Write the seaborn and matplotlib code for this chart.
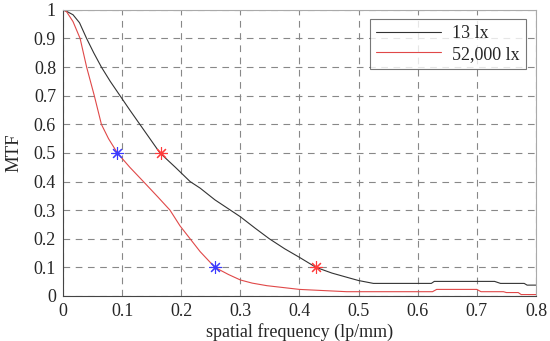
import numpy as np
import matplotlib
matplotlib.use("Agg")
import matplotlib.pyplot as plt
import pandas as pd
import seaborn as sns

# curva MTF a 13 lx
freq_13 = [0, 0.008, 0.017, 0.028, 0.040, 0.052, 0.065, 0.080, 0.0965, 0.113,
           0.130, 0.147, 0.164, 0.19, 0.215, 0.232, 0.257, 0.30, 0.325, 0.349,
           0.375, 0.40, 0.428, 0.455, 0.486, 0.50, 0.525, 0.623, 0.628, 0.73,
           0.74, 0.78, 0.785, 0.8]
mtf_13 = [1, 0.993, 0.983, 0.955, 0.9, 0.85, 0.8, 0.75, 0.7, 0.65,
          0.6, 0.55, 0.5, 0.45, 0.4, 0.377, 0.336, 0.277, 0.237, 0.2,
          0.165, 0.135, 0.1, 0.08, 0.062, 0.054, 0.044, 0.044, 0.051, 0.051,
          0.044, 0.044, 0.038, 0.038]

# curva MTF a 52,000 lx
freq_52k = [0, 0.006, 0.017, 0.029, 0.040, 0.053, 0.065, 0.077, 0.092, 0.113,
            0.136, 0.161, 0.181, 0.198, 0.215, 0.232, 0.257, 0.28, 0.30, 0.32,
            0.345, 0.40, 0.45, 0.48, 0.625, 0.632, 0.70, 0.707, 0.745, 0.75,
            0.77, 0.775, 0.8]
mtf_52k = [1, 0.994, 0.959, 0.9, 0.8, 0.7, 0.6, 0.55, 0.5, 0.45,
           0.4, 0.345, 0.3, 0.245, 0.2, 0.155, 0.1, 0.075, 0.056, 0.045,
           0.036, 0.023, 0.018, 0.015, 0.015, 0.023, 0.023, 0.015, 0.015, 0.012,
           0.012, 0.005, 0.005]

# marcadores MTF50 / MTF10
blue_x = [0.092, 0.257]
blue_y = [0.5, 0.1]
red_x = [0.165, 0.428]
red_y = [0.5, 0.1]

xticks = [0, 0.1, 0.2, 0.3, 0.4, 0.5, 0.6, 0.7, 0.8]
xtick_labels = ["0", "0.1", "0.2", "0.3", "0.4", "0.5", "0.6", "0.7", "0.8"]
yticks = [0, 0.1, 0.2, 0.3, 0.4, 0.5, 0.6, 0.7, 0.8, 0.9, 1]
ytick_labels = ["0", "0.1", "0.2", "0.3", "0.4", "0.5", "0.6", "0.7", "0.8", "0.9", "1"]

sns.set_style("white")
plt.rcParams['font.family'] = ['Liberation Serif', 'DejaVu Serif']

fig = plt.figure(figsize=(5.5, 3.41), dpi=100)
ax = fig.add_axes([0.1145, 0.132, 0.86, 0.839])

df13 = pd.DataFrame({"f": freq_13, "mtf": mtf_13})
df52 = pd.DataFrame({"f": freq_52k, "mtf": mtf_52k})
sns.lineplot(data=df13, x="f", y="mtf", ax=ax, color="#333333", linewidth=0.8,
             label="13 lx", sort=False)
sns.lineplot(data=df52, x="f", y="mtf", ax=ax, color="#e04848", linewidth=0.8,
             label="52,000 lx", sort=False)

ax.plot(blue_x, blue_y, linestyle="none", marker=(8, 2, 0), markersize=9,
        color="#3b3bff", markeredgewidth=0.8)
ax.plot(red_x, red_y, linestyle="none", marker=(8, 2, 0), markersize=9,
        color="#ff3b3b", markeredgewidth=0.8)

ax.set_xlim(0, 0.8)
ax.set_ylim(0, 1)
ax.set_xticks(xticks)
ax.set_xticklabels(xtick_labels)
ax.set_yticks(yticks)
ax.set_yticklabels(ytick_labels)
ax.tick_params(axis="both", labelsize=13, length=0, pad=5)
ax.grid(True, color="#888888", linestyle=(0, (6, 5)), linewidth=0.8)

for side in ["top", "right"]:
    ax.spines[side].set_color("#aaaaaa")
for side in ["left", "bottom"]:
    ax.spines[side].set_color("#444444")
for s in ax.spines.values():
    s.set_linewidth(0.8)

ax.set_xlabel("spatial frequency (lp/mm)", fontsize=13, labelpad=2)
ax.set_ylabel("MTF", fontsize=13.5, labelpad=8)

leg = ax.legend(loc="upper right", bbox_to_anchor=(0.979, 0.969), fontsize=13,
                frameon=True, fancybox=False, edgecolor="#555555",
                handlelength=3.6, handletextpad=0.6, borderpad=0.35,
                labelspacing=0.2, borderaxespad=0)
leg.get_frame().set_linewidth(0.8)

fig.savefig("out.png", dpi=100)
